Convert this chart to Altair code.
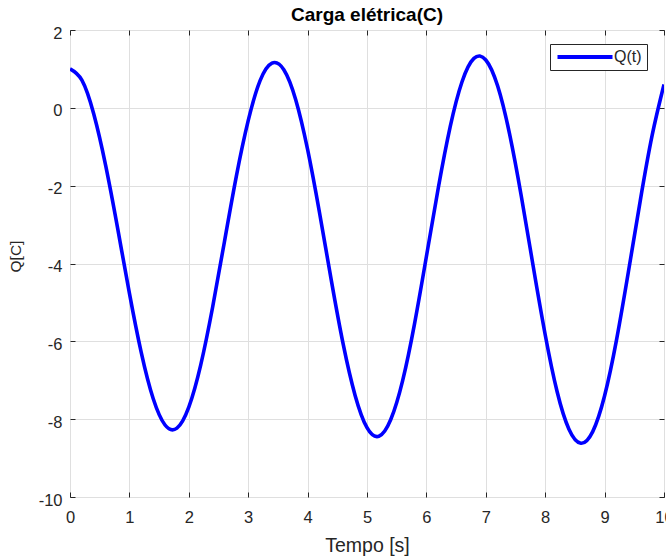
import altair as alt
import pandas as pd

# time samples [s]
t = [0.0, 0.2, 0.4, 0.6, 0.8, 1.0, 1.2, 1.4, 1.6, 1.8,
     2.0, 2.2, 2.4, 2.6, 2.8, 3.0, 3.2, 3.4, 3.6, 3.8,
     4.0, 4.2, 4.4, 4.6, 4.8, 5.0, 5.2, 5.4, 5.6, 5.8,
     6.0, 6.2, 6.4, 6.6, 6.8, 7.0, 7.2, 7.4, 7.6, 7.8,
     8.0, 8.2, 8.4, 8.6, 8.8, 9.0, 9.2, 9.4, 9.6, 9.8,
     10.0]

# charge Q(t) [C]
q = [1.00, 0.71, -0.16, -1.48, -3.08, -4.76, -6.29, -7.47, -8.15, -8.23,
     -7.69, -6.61, -5.13, -3.44, -1.76, -0.33, 0.70, 1.15, 0.98, 0.21,
     -1.07, -2.69, -4.44, -6.08, -7.39, -8.22, -8.44, -8.01, -7.01, -5.55,
     -3.82, -2.06, -0.49, 0.67, 1.27, 1.23, 0.56, -0.67, -2.29, -4.09,
     -5.83, -7.29, -8.26, -8.62, -8.32, -7.40, -5.97, -4.22, -2.39, -0.71,
     0.60]

series_name = "Q(t)"
x_ticks = [0, 1, 2, 3, 4, 5, 6, 7, 8, 9, 10]
y_ticks = [-10, -8, -6, -4, -2, 0, 2]

df = pd.DataFrame({"t": t, "q": q, "serie": [series_name] * len(t)})

FONT = "Liberation Sans"
AX = "#262626"
GRID = "#dfdfdf"
HYPHEN_LABEL = "datum.value < 0 ? '-' + abs(datum.value) : '' + datum.value"

x_scale = alt.Scale(domain=[0, 10], nice=False, zero=False)
y_scale = alt.Scale(domain=[-10, 2], nice=False, zero=False)

x_main = alt.Axis(
    orient="bottom", values=x_ticks, offset=-5, tickSize=5, tickColor=AX, tickWidth=1,
    domain=False, grid=True, gridColor=GRID, gridWidth=1,
    labelFont=FONT, labelFontSize=16.5, labelColor=AX, labelPadding=12,
    labelFlush=False, labelOverlap=False, labelBound=False, labelExpr=HYPHEN_LABEL,
    title="Tempo [s]", titleFont=FONT, titleFontSize=19.5, titleFontWeight="normal",
    titleColor=AX, titleY=59, titleBaseline="alphabetic",
)
y_main = alt.Axis(
    orient="left", values=y_ticks, offset=-5, tickSize=5, tickColor=AX, tickWidth=1,
    domain=False, grid=True, gridColor=GRID, gridWidth=1,
    labelFont=FONT, labelFontSize=16.5, labelColor=AX, labelPadding=8, labelOffset=3,
    labelFlush=False, labelOverlap=False, labelBound=False, labelExpr=HYPHEN_LABEL,
    title="Q[C]", titleFont=FONT, titleFontSize=15.5, titleFontWeight="normal",
    titleColor=AX, titleX=-55, titleY=226, titleAngle=270,
    titleBaseline="alphabetic", titleAlign="center",
)
x_top = alt.Axis(
    orient="top", values=x_ticks, offset=-5, tickSize=5, tickColor=AX, tickWidth=1,
    domain=False, grid=False, labels=False, title=None,
)
y_right = alt.Axis(
    orient="right", values=y_ticks, offset=-5, tickSize=5, tickColor=AX, tickWidth=1,
    domain=False, grid=False, labels=False, title=None,
)

legend = alt.Legend(
    title=None, orient="none", legendX=480, legendY=14,
    strokeColor=AX, fillColor="white", padding=5, cornerRadius=0,
    symbolType="M-1,0H9", symbolSize=121, symbolStrokeWidth=4,
    labelFont=FONT, labelFontSize=16, labelColor=AX, labelOffset=43,
)

line = alt.Chart(df).mark_line(interpolate="natural", strokeWidth=3.6, clip=True).encode(
    x=alt.X("t:Q", scale=x_scale, axis=x_main),
    y=alt.Y("q:Q", scale=y_scale, axis=y_main),
    color=alt.Color("serie:N", scale=alt.Scale(domain=[series_name], range=["#0000ff"]), legend=legend),
)

frame = alt.Chart(df).mark_point(opacity=0).encode(
    x=alt.X("t:Q", scale=x_scale, axis=x_top),
    y=alt.Y("q:Q", scale=y_scale, axis=y_right),
)

chart = (
    alt.layer(line, frame)
    .resolve_axis(x="independent", y="independent")
    .properties(
        width=594, height=467,
        title=alt.TitleParams(
            text="Carga elétrica(C)", font=FONT, fontSize=19, fontWeight="bold",
            color="#000000", anchor="middle", offset=2, dy=17, baseline="alphabetic",
        ),
        autosize=alt.AutoSizeParams(type="none"),
        padding={"left": 70, "top": 30, "right": 2, "bottom": 62},
        background="white",
    )
    .configure_view(stroke=AX, strokeWidth=1)
)

chart.save("out.html", embed_options={"renderer": "svg", "actions": False})
